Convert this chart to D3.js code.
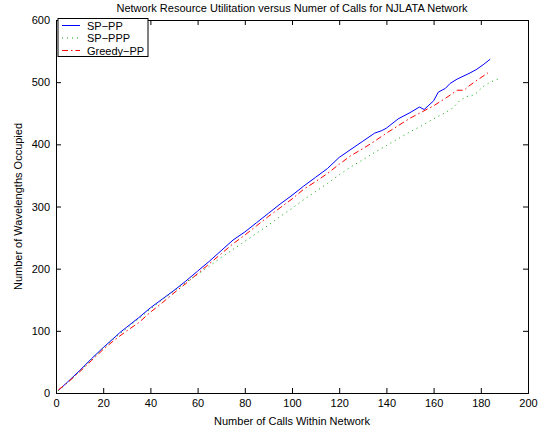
<!DOCTYPE html>
<html>
<head>
<meta charset="utf-8">
<script src="https://cdn.jsdelivr.net/npm/d3@7"></script>
<style>
  body { margin: 0; background: #fff; }
  svg { font-family: "Liberation Sans", Arial, Helvetica, sans-serif; }
</style>
</head>
<body>
<div id="chart"></div>
<script>
// dados //
const spppX = [1,5,10,15,20,25,27,30,35,40,45,50,55,60,65,70,75,80,85,90,95,100,105,110,115,120,125,130,135,138,140,145,150,154,156,158,160,162,165,167,170,175,178,181,184]
const spppY = [4,18,36,55,73,90,97,106,121,137,151,165,180,196,212,229,246,259,274,289,304,318,333,347,361,379,392,405,418,422,426,441,451,460,456,463,470,484,490,498,505,514,520,528,537]

const spPppX = [1,5,10,15,20,25,30,35,40,45,50,55,60,65,70,75,80,85,90,95,100,105,110,115,120,125,130,135,140,145,150,155,160,165,168,171,174,176,178,181,184,188]
const spPppY = [4,17,35,54,72,89,104,119,135,150,164,178,191,204,218,231,244,257,270,284,297,311,324,337,351,364,375,387,398,409,420,430,441,451,458,470,477,478,482,493,500,506]

const greedyX = [1,5,10,15,20,25,30,35,40,45,50,55,60,65,70,75,80,85,90,95,100,105,110,115,120,125,130,135,140,145,150,155,160,165,170,173,175,178,183]
const greedyY = [5,17,34,52,70,86,100,113,130,145,161,176,192,208,224,240,254,269,284,298,312,328,340,353,368,382,393,405,418,430,442,452,462,474,487,487,494,502,515]

const xTicks = [0,20,40,60,80,100,120,140,160,180,200]
const yTicks = [0,100,200,300,400,500,600]

const seriesNames = ["SP\u2212PP", "SP\u2212PPP", "Greedy\u2212PP"]

// Renderiza o gráfico //
const width = 542, height = 431
const margin = {left: 56, right: 14, top: 20, bottom: 38}

const series = [
  {name: seriesNames[0], xs: spppX, ys: spppY, color: "#0000ff", dash: null},
  {name: seriesNames[1], xs: spPppX, ys: spPppY, color: "#00a800", dash: "1,4"},
  {name: seriesNames[2], xs: greedyX, ys: greedyY, color: "#ff0000", dash: "6,3,1.5,3"}
]

const x = d3.scaleLinear().domain([0, 200]).range([margin.left, width - margin.right])
const y = d3.scaleLinear().domain([0, 600]).range([height - margin.bottom, margin.top])

const svg = d3.select("#chart").append("svg")
    .attr("width", width)
    .attr("height", height)

// eixos com ticks para dentro //
const tick = 5
svg.append("g")
    .attr("transform", "translate(0," + y(0) + ")")
    .call(d3.axisBottom(x).tickValues(xTicks).tickSize(-tick).tickPadding(6))
svg.append("g")
    .attr("transform", "translate(0," + y(600) + ")")
    .call(d3.axisTop(x).tickValues(xTicks).tickSize(-tick).tickFormat(""))
svg.append("g")
    .attr("transform", "translate(" + x(0) + ",0)")
    .call(d3.axisLeft(y).tickValues(yTicks).tickSize(-tick).tickPadding(6))
svg.append("g")
    .attr("transform", "translate(" + x(200) + ",0)")
    .call(d3.axisRight(y).tickValues(yTicks).tickSize(-tick).tickFormat(""))

svg.selectAll(".domain").attr("stroke", "#000").attr("stroke-width", 1)
svg.selectAll(".tick line").attr("stroke", "#000")
svg.selectAll(".tick text").attr("font-size", 11).attr("fill", "#000")
    .attr("font-family", "'Liberation Sans', Arial, sans-serif")

// linhas //
const line = d3.line()
    .x(d => x(d[0]))
    .y(d => y(d[1]))

series.forEach(s => {
  const pts = s.xs.map((v, i) => [v, s.ys[i]])
  svg.append("path")
      .datum(pts)
      .attr("d", line)
      .attr("fill", "none")
      .attr("stroke", s.color)
      .attr("stroke-width", 1)
      .attr("stroke-dasharray", s.dash)
})

// textos //
svg.append("text")
    .attr("x", (x(0) + x(200)) / 2)
    .attr("y", 12)
    .attr("text-anchor", "middle")
    .attr("font-size", 11)
    .text("Network Resource Utilitation versus Numer of Calls for NJLATA Network")

svg.append("text")
    .attr("x", (x(0) + x(200)) / 2)
    .attr("y", 425)
    .attr("text-anchor", "middle")
    .attr("font-size", 11)
    .text("Number of Calls Within Network")

svg.append("text")
    .attr("transform", "translate(22," + (y(0) + y(600)) / 2 + ") rotate(-90)")
    .attr("text-anchor", "middle")
    .attr("font-size", 11)
    .text("Number of Wavelengths Occupied")

// legenda //
const legend = svg.append("g").attr("transform", "translate(58,18.5)")
legend.append("rect")
    .attr("width", 90)
    .attr("height", 38)
    .attr("fill", "#fff")
    .attr("stroke", "#000")
    .attr("stroke-width", 1)

series.forEach((s, i) => {
  const ly = 7 + i * 12.5
  legend.append("line")
      .attr("x1", 4).attr("x2", 22)
      .attr("y1", ly).attr("y2", ly)
      .attr("stroke", s.color)
      .attr("stroke-width", 1)
      .attr("stroke-dasharray", s.dash)
  legend.append("text")
      .attr("x", 29)
      .attr("y", ly + 4)
      .attr("font-size", 11)
      .text(s.name)
})
</script>
</body>
</html>
